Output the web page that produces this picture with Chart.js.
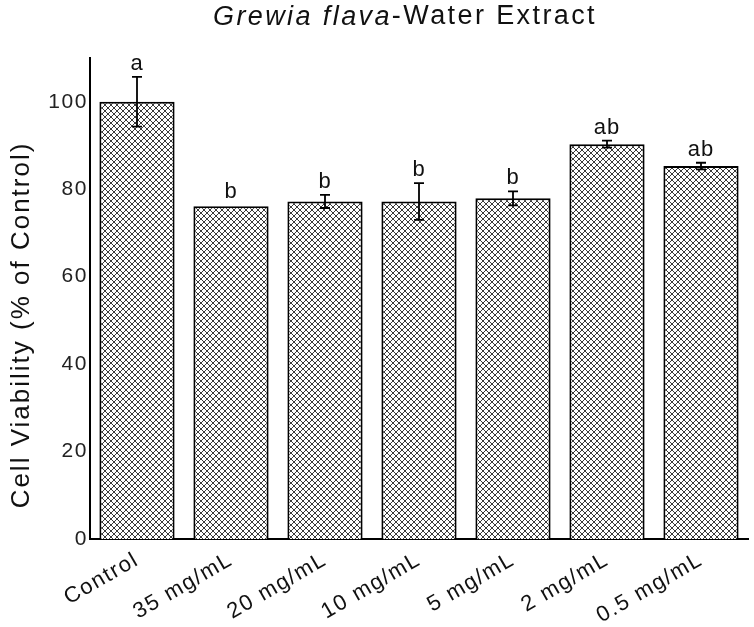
<!DOCTYPE html>
<html>
<head>
<meta charset="utf-8">
<script src="https://cdn.jsdelivr.net/npm/chart.js@4/dist/chart.umd.min.js"></script>
<style>
  html, body { margin: 0; padding: 0; background: #fff; }
  #wrap { width: 754px; height: 627px; }
</style>
</head>
<body>
<div id="wrap"><canvas id="chart"></canvas></div>
<script>
// values
var categories = ["Control", "35 mg/mL", "20 mg/mL", "10 mg/mL", "5 mg/mL", "2 mg/mL", "0.5 mg/mL"];
var viability = [100, 76.1, 77.2, 77.2, 77.9, 90.3, 85.3];
var errors = [5.7, 0.2, 1.5, 4.2, 1.6, 0.8, 0.75];
var letters = ["a", "b", "b", "b", "b", "ab", "ab"];
var yTicks = [0, 20, 40, 60, 80, 100];

var FONT = 'Arial, "Liberation Sans", sans-serif';

// cross-hatch fill
function makeHatch() {
    var c = document.createElement('canvas');
    c.width = 6; c.height = 6;
    var g = c.getContext('2d');
    g.fillStyle = '#fff';
    g.fillRect(0, 0, 6, 6);
    g.strokeStyle = '#3a3a3a';
    g.lineWidth = 1;
    g.beginPath();
    g.moveTo(0, 0); g.lineTo(6, 6);
    g.moveTo(6, 0); g.lineTo(0, 6);
    g.stroke();
    return g.createPattern(c, 'repeat');
}

// the original figure uses widely spaced lettering
var spacing = {
    id: 'spacing',
    beforeUpdate: function(chart) { chart.ctx.letterSpacing = '1.6px'; },
    beforeLayout: function(chart) { chart.ctx.letterSpacing = '1.6px'; },
    beforeDraw: function(chart) { chart.ctx.letterSpacing = '1.6px'; }
};

var errorBars = {
    id: 'errorBars',
    afterDatasetsDraw: function(chart) {
        var ctx = chart.ctx;
        var y = chart.scales.y;
        var meta = chart.getDatasetMeta(0);
        ctx.save();
        ctx.strokeStyle = '#000';
        ctx.lineWidth = 1.8;
        ctx.fillStyle = '#111';
        ctx.font = '22px ' + FONT;
        ctx.letterSpacing = '1px';
        ctx.textAlign = 'center';
        ctx.textBaseline = 'bottom';
        meta.data.forEach(function(bar, i) {
            var top = y.getPixelForValue(viability[i] + errors[i]);
            var bot = y.getPixelForValue(viability[i] - errors[i]);
            if (errors[i] > 0.3) {
                ctx.beginPath();
                ctx.moveTo(bar.x, top); ctx.lineTo(bar.x, bot);
                ctx.moveTo(bar.x - 5, top); ctx.lineTo(bar.x + 5, top);
                ctx.moveTo(bar.x - 5, bot); ctx.lineTo(bar.x + 5, bot);
                ctx.stroke();
            }
            ctx.fillText(letters[i], bar.x, top - 2);
        });
        ctx.restore();
    }
};

var titlePlugin = {
    id: 'mixedTitle',
    afterDraw: function(chart) {
        var ctx = chart.ctx;
        ctx.save();
        ctx.fillStyle = '#111';
        ctx.textBaseline = 'middle';
        ctx.letterSpacing = '2.4px';
        var italic = 'italic 27px ' + FONT;
        var normal = '27px ' + FONT;
        var part1 = 'Grewia flava', part2 = '-Water Extract';
        ctx.font = italic; var w1 = ctx.measureText(part1).width;
        ctx.font = normal; var w2 = ctx.measureText(part2).width;
        var x0 = 405 - (w1 + w2) / 2;
        ctx.textAlign = 'left';
        ctx.font = italic; ctx.fillText(part1, x0, 17);
        ctx.font = normal; ctx.fillText(part2, x0 + w1, 17);

        // y axis title, sits a little below the plot's middle in the original
        ctx.letterSpacing = '2px';
        ctx.font = '26px ' + FONT;
        ctx.textAlign = 'center';
        ctx.translate(22, 325);
        ctx.rotate(-Math.PI / 2);
        ctx.fillText('Cell Viability (% of Control)', 0, 0);
        ctx.restore();
    }
};

var ctx = document.getElementById('chart').getContext('2d');
var chart = new Chart(ctx, {
    type: 'bar',
    data: {
        labels: categories,
        datasets: [{
            data: viability,
            backgroundColor: makeHatch(),
            borderColor: '#000',
            borderWidth: 2,
            barPercentage: 0.8,
            categoryPercentage: 1.0
        }]
    },
    options: {
        responsive: true,
        maintainAspectRatio: false,
        animation: false,
        layout: { padding: { top: 58, right: 6, left: 0, bottom: 0 } },
        plugins: {
            legend: { display: false },
            tooltip: { enabled: false }
        },
        scales: {
            x: {
                grid: { display: false, drawTicks: false },
                border: { display: true, color: '#000', width: 2 },
                ticks: {
                    color: '#111',
                    font: { family: FONT, size: 22 },
                    minRotation: 30,
                    maxRotation: 30,
                    padding: 8
                },
                afterFit: function(s) { s.height = 88; }
            },
            y: {
                min: 0,
                max: 110,
                afterBuildTicks: function(s) {
                    s.ticks = yTicks.map(function(v) { return { value: v }; });
                },
                grid: { display: false, drawTicks: false },
                border: { display: true, color: '#000', width: 2 },
                ticks: {
                    color: '#222',
                    font: { family: FONT, size: 21 },
                    padding: 2
                },
                afterFit: function(s) { s.width = 90; }
            }
        }
    },
    plugins: [spacing, errorBars, titlePlugin]
});
</script>
</body>
</html>
